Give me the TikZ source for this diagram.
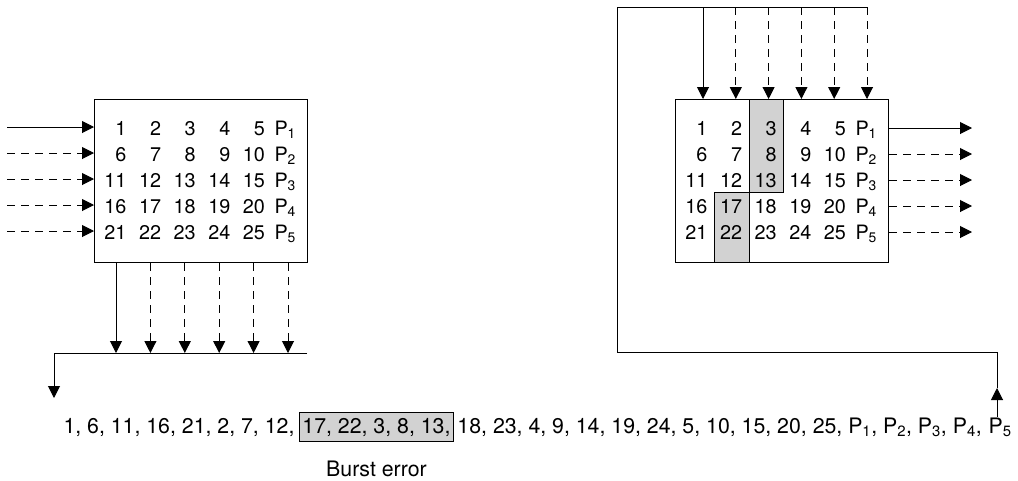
\documentclass[tikz,border=0pt]{standalone}
\usepackage{fontspec}
\setmainfont{TeX Gyre Heros}
\usetikzlibrary{positioning,calc,arrows.meta}
\tikzset{
  arr/.style={-{Triangle[length=12pt,width=12pt]}},
  dsh/.style={dash pattern=on 8pt off 6pt},
  cell/.style={inner sep=0pt,anchor=base east,font=\fontsize{19.8}{23}\selectfont},
  seq/.style={inner sep=0pt,font=\fontsize{21.3}{25}\selectfont},
  burstcell/.style={draw,fill=gray!35},
}
\newcommand{\Psub}[1]{P\textsubscript{#1}}
\newcommand{\codegrid}[3]{%
  \node[draw,minimum width=213pt,minimum height=163pt,anchor=north west,inner sep=0pt] (#1) at (#2,#3) {};
  \foreach \r in {1,...,5} {
    \foreach \c in {1,...,5} {
      \pgfmathtruncatemacro\val{5*(\r-1)+\c}
      \node[cell] (#1-\r-\c) at ($(#1.north west)+(33+34.6*\c-34.6,36+26*\r-26)$) {\val};
    }
    \node[cell,anchor=base west] (#1-p\r) at ($(#1.north west)+(180,36+26*\r-26)$) {\Psub{\r}};
  }
}
\begin{document}
\begin{tikzpicture}[x=1pt,y=-1pt,line width=1pt]
  \useasboundingbox (0,0) rectangle (1018,480);
  \draw[burstcell] (749,99) rectangle (783,192);
  \draw[burstcell] (714,192) rectangle (749,262);
  \codegrid{enc}{94}{99}
  \codegrid{dec}{675}{99}
  % rows in and out
  \foreach \r/\sty in {1/solid,2/dsh,3/dsh,4/dsh,5/dsh} {
    \coordinate (in\r) at (7,127+26*\r-26);
    \coordinate (out\r) at (972,128+26*\r-26);
    \draw[arr,\sty] (in\r) -- (in\r -| enc.west);
    \draw[arr,\sty] (out\r -| dec.east) -- (out\r);
  }
  % columns
  \foreach \i/\sty in {1/solid,2/dsh,3/dsh,4/dsh,5/dsh,6/dsh} {
    \coordinate (dn\i) at (116+34.4*\i-34.4,353);
    \coordinate (up\i) at (703+32.8*\i-32.8,7);
    \draw[arr,\sty] (dn\i |- enc.south) -- (dn\i);
    \draw[arr,\sty] (up\i) -- (up\i |- dec.north);
  }
  \coordinate (busL) at (54,353);
  \coordinate (busR) at (307,353);
  \coordinate (busD) at (54,398);
  \draw[arr] (busR) -- (busL) -- (busD);
  \node[seq,anchor=base west] (lseq) at (63,433) {1, 6, 11, 16, 21, 2, 7, 12,};
  \node[seq,burstcell,inner xsep=3pt,inner ysep=3.5pt,text height=17pt,text depth=5pt,
        base right=4pt of lseq] (burst) {17, 22, 3, 8, 13,};
  \node[seq,base right=3pt of burst] (rseq)
        {18, 23, 4, 9, 14, 19, 24, 5, 10, 15, 20, 25, \Psub{1}, \Psub{2}, \Psub{3}, \Psub{4},};
  \node[seq,base right=5.9pt of rseq] (p5) {\Psub{5}};
  \node[seq,below=18pt of burst] (blabel) {Burst error};
  \coordinate (p5tip) at (997,388);
  \coordinate (retR) at (997,352);
  \coordinate (retL) at (617,352);
  \coordinate (topL) at (617,7);
  \draw[arr] (p5tip |- p5.north) -- (p5tip);
  \draw (p5tip) -- (retR) -- (retL) -- (topL) -- (up6);
\end{tikzpicture}
\end{document}
